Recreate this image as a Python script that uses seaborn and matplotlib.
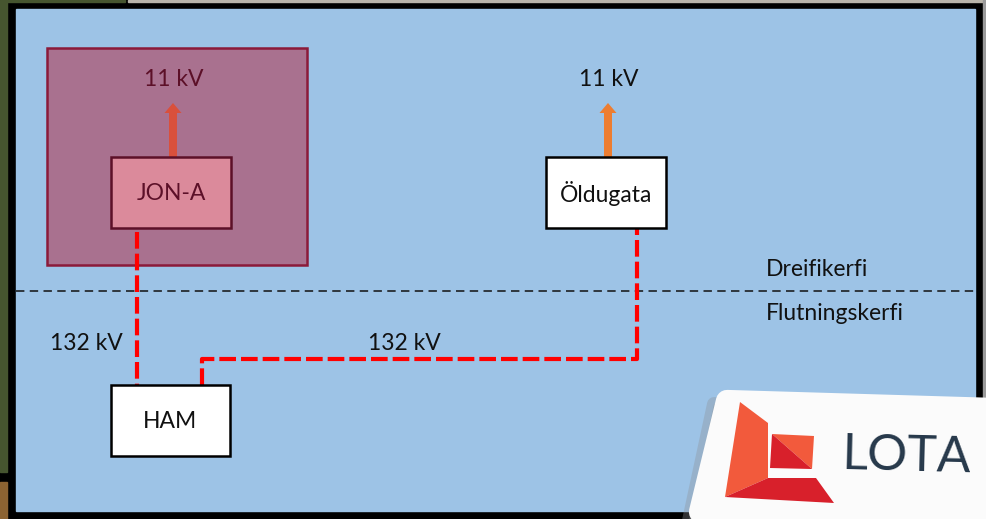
"""
Single-line diagram: JON-A / Öldugata / HAM with LOTA logo.
"""

import matplotlib.pyplot as plt
import seaborn as sns
from matplotlib.patches import FancyArrow, Polygon, Rectangle

# Node labels and the voltage annotations
node_names = ["JON-A", "Öldugata", "HAM"]
feed_labels = ["11 kV", "11 kV"]
line_labels = ["132 kV", "132 kV"]
zone_labels = ["Dreifikerfi", "Flutningskerfi"]
logo_text = "LOTA"

# Cable routes (x, y) in layout units
route_x = [[137, 137], [202, 202, 637, 637]]
route_y = [[232, 385], [385, 359, 359, 228]]

sns.set_theme(style="white")
plt.rcParams["font.family"] = ["Lato", "DejaVu Sans"]

fig = plt.figure(figsize=(9.86, 5.19), dpi=100)
ax = fig.add_axes([0, 0, 1, 1])
ax.set_xlim(0, 986)
ax.set_ylim(519, 0)
ax.axis("off")

# Photo edge + black frame + slide background
ax.add_patch(Rectangle((0, 0), 986, 519, color="black", zorder=0))
ax.add_patch(Rectangle((0, 0), 7, 472, color="#46552f", zorder=0.5))
ax.add_patch(Rectangle((0, 482), 7, 37, color="#8c6332", zorder=0.5))
ax.add_patch(Rectangle((0, 0), 125, 2, color="#46552f", zorder=0.5))
ax.add_patch(Rectangle((128, 0), 858, 2, color="#b9b4aa", zorder=0.5))
ax.add_patch(Rectangle((983, 0), 3, 519, color="#9a9a9a", zorder=0.5))
ax.add_patch(Rectangle((16, 9), 959, 502, color="#9dc3e6", zorder=1))

# Distribution/transmission divider
ax.plot([16, 975], [291, 291], color="#111111", lw=1.1,
        dashes=(5.5, 3.5), zorder=2)
ax.text(766, 269, zone_labels[0], fontsize=16.5, color="#111111",
        ha="left", va="center", zorder=5)
ax.text(766, 314, zone_labels[1], fontsize=16.5, color="#111111",
        ha="left", va="center", zorder=5)

# JON-A area
ax.add_patch(Rectangle((47, 48), 260, 217, facecolor="#a9718f",
                       edgecolor="#8b1a3a", lw=1.8, zorder=2))
ax.add_patch(FancyArrow(173, 157, 0, -44, width=8, head_width=17,
                        head_length=10, length_includes_head=False,
                        color="#d9503c", lw=0, zorder=3))
ax.text(174, 79, feed_labels[0], fontsize=16.5, color="#5c1028",
        ha="center", va="center", zorder=5)
ax.add_patch(Rectangle((111, 157), 120, 71, facecolor="#db8a9b",
                       edgecolor="#5c1028", lw=1.8, zorder=4))
ax.text(171, 193, node_names[0], fontsize=16.5, color="#5c1028",
        ha="center", va="center", zorder=5)

# Öldugata
ax.add_patch(FancyArrow(608, 157, 0, -44, width=8, head_width=17,
                        head_length=10, length_includes_head=False,
                        color="#ed7d31", lw=0, zorder=3))
ax.text(609, 79, feed_labels[1], fontsize=16.5, color="#111111",
        ha="center", va="center", zorder=5)
ax.add_patch(Rectangle((546, 157), 120, 71, facecolor="white",
                       edgecolor="black", lw=1.8, zorder=4))
ax.text(606, 193, node_names[1], fontsize=16.5, color="#111111",
        ha="center", va="center", zorder=5)

# 132 kV cables
for xs, ys in zip(route_x, route_y):
    sns.lineplot(x=xs, y=ys, sort=False, estimator=None, color="#ff0000",
                 lw=3.0, dashes=False, ax=ax, zorder=3)
for line in ax.lines[-2:]:
    line.set_dashes((4.0, 1.2))
ax.text(86, 343, line_labels[0], fontsize=16.5, color="#111111",
        ha="center", va="center", zorder=5)
ax.text(404, 343, line_labels[1], fontsize=16.5, color="#111111",
        ha="center", va="center", zorder=5)

# HAM
ax.add_patch(Rectangle((111, 385), 119, 71, facecolor="white",
                       edgecolor="black", lw=1.8, zorder=4))
ax.text(170, 421, node_names[2], fontsize=16.5, color="#111111",
        ha="center", va="center", zorder=5)

# LOTA logo card
shadow = [(714, 404), (990, 412), (990, 525), (688, 525)]
ax.add_patch(Polygon(shadow, closed=True, facecolor="#8d9196",
                     edgecolor="#8d9196", lw=10, joinstyle="round",
                     alpha=0.35, zorder=6))
card = [(727, 401), (995, 409), (995, 530), (700, 512)]
ax.add_patch(Polygon(card, closed=True, facecolor="#fbfbfb",
                     edgecolor="#fbfbfb", lw=16, joinstyle="round",
                     zorder=7))

orange = "#f25a3c"
red = "#d8202b"
ax.add_patch(Polygon([(740, 402), (768, 423), (768, 478), (725, 497)],
                     closed=True, color=orange, lw=0, zorder=8))
ax.add_patch(Polygon([(725, 497), (768, 478), (816, 478), (834, 503)],
                     closed=True, color=red, lw=0, zorder=8))
ax.add_patch(Polygon([(772, 434), (814, 436), (812, 469)],
                     closed=True, color=orange, lw=0, zorder=8))
ax.add_patch(Polygon([(772, 434), (812, 469), (770, 468)],
                     closed=True, color=red, lw=0, zorder=8))
ax.text(906, 457, logo_text, fontsize=36, fontweight="normal",
        color="#26384a", ha="center", va="center", rotation=-1.5,
        zorder=9)

fig.savefig("out.png", dpi=100)
